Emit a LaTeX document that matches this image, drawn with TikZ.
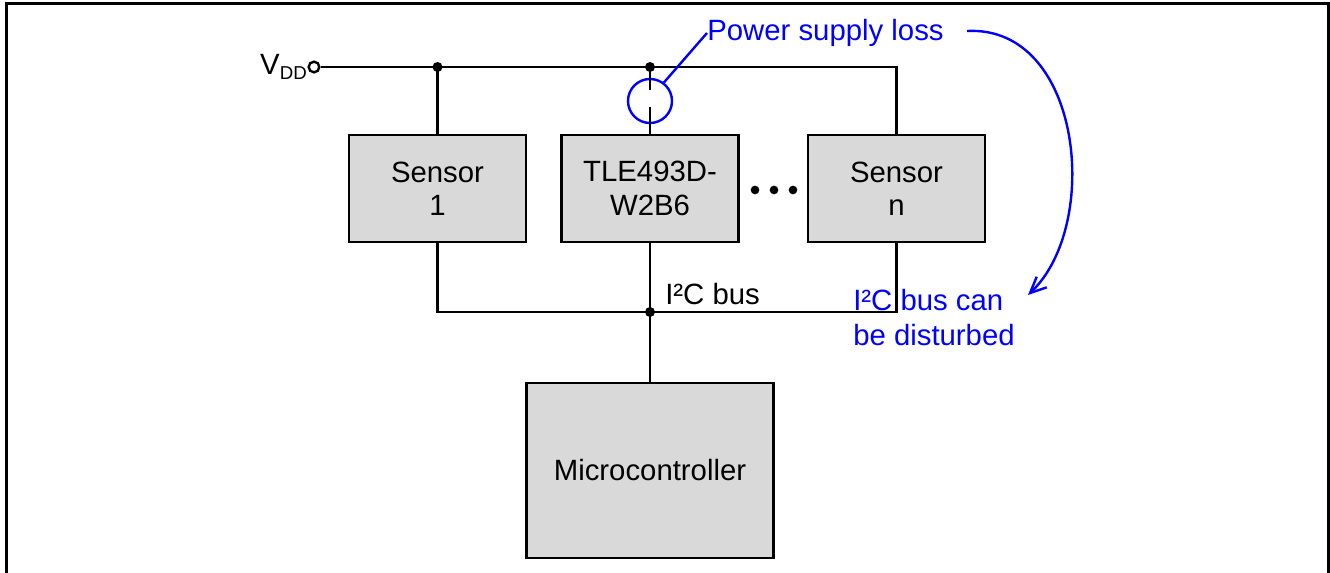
\documentclass[tikz,border=0pt]{standalone}
\usepackage{fontspec}
\setmainfont{Liberation Sans}
\usetikzlibrary{arrows.meta,calc}
\definecolor{boxgray}{RGB}{217,217,217}
\definecolor{noteblue}{RGB}{0,0,255}
\begin{document}
\begin{tikzpicture}[x=0.75pt,y=-0.75pt,
  font=\fontsize{22}{25}\selectfont,
  wire/.style={line width=1.8pt, black},
  blk/.style={draw, line width=1.8pt, fill=boxgray, inner sep=0pt, align=center,
              minimum width=133pt, minimum height=80.25pt},
  dotj/.style={circle, fill=black, inner sep=0pt, minimum size=7.5pt},
  note/.style={text=noteblue},
  noteline/.style={draw=noteblue, line width=1.8pt}]
\useasboundingbox (0,0) rectangle (1330,573);
% frame
\draw[line width=2.25pt] (6,575) -- (6,4) -- (1328,4) -- (1328,575);

% blocks
\node[blk] (s1) at (437.5,188.5) {Sensor\\1};
\node[blk] (tle) at (650,188.5) {TLE493D-\\W2B6};
\node[blk] (sn) at (896.5,188.5) {Sensor\\n};
\node[blk, minimum width=185.25pt, minimum height=131.25pt] (mc) at (650,470.5) {Microcontroller};

% supply
\node[circle, draw, line width=1.8pt, fill=white, inner sep=0pt, minimum size=8pt] (vddc) at (314,67) {};
\node[anchor=base east, inner sep=0pt] (vdd) at (307,75)
  {V{\fontsize{14}{14}\selectfont\raisebox{-3.75pt}{DD}}};
\coordinate (j1) at (s1.north |- vddc);
\coordinate (j2) at (tle.north |- vddc);
\draw[wire] (vddc.east) -- (sn.north |- vddc) -- (sn.north);
\draw[wire] (j1) -- (s1.north);

% power supply loss marker
\node[circle, draw=noteblue, line width=1.8pt, inner sep=0pt, minimum size=33pt] (pc) at (650,101) {};
\draw[wire] (j2) -- ($(pc.center)+(0,-11)$);
\draw[wire] ($(pc.center)+(0,6)$) -- (tle.north);

% bus
\coordinate (bus) at (tle.south |- 0,312);
\draw[wire] (s1.south) -- (s1.south |- bus) -- (sn.south |- bus) -- (sn.south);
\draw[wire] (tle.south) -- (mc.north);
\node[anchor=base west, inner sep=0pt] (buslbl) at (665,305) {I²C bus};

% junctions
\node[dotj] at (j1) {};
\node[dotj] at (j2) {};
\node[dotj] at (bus) {};

% ellipsis
\node[dotj, minimum size=6.5pt] (e1) at (755,190) {};
\node[dotj, minimum size=6.5pt] (e2) at (774,190) {};
\node[dotj, minimum size=6.5pt] (e3) at (793,190) {};

% notes
\node[note, anchor=west, inner sep=0pt] (psl) at (707,33) {Power supply loss};
\draw[noteline] (pc.53) -- (psl.west);
\node[note, anchor=north west, align=left, inner sep=0pt,
      font=\fontsize{22}{26.25}\selectfont] (dist) at (853,289) {I²C bus can\\be disturbed};
\coordinate (arrend) at (1028,295);
\draw[noteline, -{Straight Barb[length=12pt, width=11pt]}]
  (967,31) .. controls (1082,25) and (1102,225) .. (arrend);
\end{tikzpicture}
\end{document}
